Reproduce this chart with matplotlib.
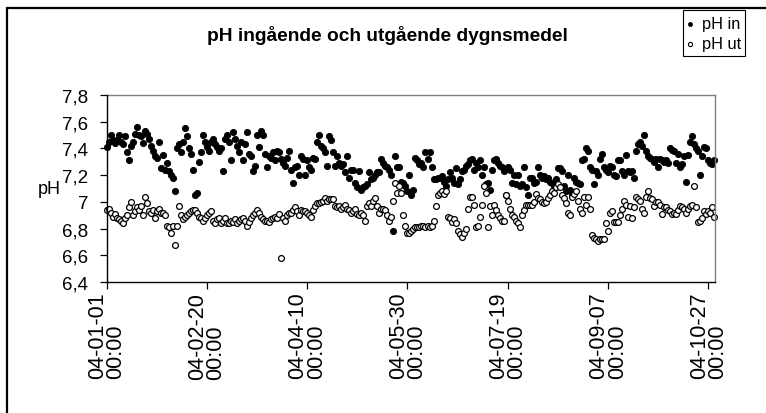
import numpy as np
import matplotlib
matplotlib.use("Agg")
import matplotlib.pyplot as plt
import matplotlib.dates as mdates
from matplotlib.patches import Rectangle
from matplotlib.lines import Line2D
from matplotlib.ticker import FuncFormatter, FixedLocator

plt.rcParams['font.family'] = ['Liberation Sans', 'DejaVu Sans']

start_date = '2004-01-01'
title = 'pH ingående och utgående dygnsmedel'
series_names = ['pH in', 'pH ut']
y_label = 'pH'
y_ticks = [6.4, 6.6, 6.8, 7.0, 7.2, 7.4, 7.6, 7.8]
x_tick_dates = ['2004-01-01', '2004-02-20', '2004-04-10', '2004-05-30',
                '2004-07-19', '2004-09-07', '2004-10-27']

# daily means, one value per day from start_date
ph_in = [
    7.41, 7.45, 7.50, 7.46, 7.44, 7.46, 7.50, 7.45, 7.43, 7.49,
    7.37, 7.31, 7.42, 7.45, 7.51, 7.56, 7.50, 7.49, 7.44, 7.53,
    7.51, 7.47, 7.42, 7.38, 7.34, 7.33, 7.45, 7.25, 7.35, 7.24,
    7.29, 7.23, 7.20, 7.18, 7.08, 7.40, 7.43, 7.37, 7.45, 7.55,
    7.49, 7.40, 7.36, 7.24, 7.05, 7.07, 7.30, 7.37, 7.50, 7.45,
    7.41, 7.38, 7.45, 7.47, 7.43, 7.41, 7.38, 7.40, 7.23, 7.47,
    7.50, 7.45, 7.31, 7.52, 7.47, 7.42, 7.37, 7.45, 7.31, 7.43,
    7.52, 7.36, 7.34, 7.23, 7.27, 7.50, 7.41, 7.53, 7.50, 7.36,
    7.26, 7.34, 7.33, 7.37, 7.31, 7.38, 7.37, 7.32, 7.29, 7.27,
    7.33, 7.38, 7.24, 7.14, 7.26, 7.27, 7.20, 7.34, 7.32, 7.20,
    7.31, 7.26, 7.24, 7.33, 7.32, 7.45, 7.50, 7.42, 7.40, 7.37,
    7.27, 7.49, 7.46, 7.37, 7.27, 7.34, 7.29, 7.27, 7.28, 7.22,
    7.34, 7.18, 7.24, 7.24, 7.14, 7.11, 7.23, 7.09, 7.11, 7.12,
    7.13, 7.22, 7.17, 7.18, 7.20, 7.22, 7.22, 7.32, 7.29, 7.27,
    7.26, 7.24, 7.20, 6.78, 7.34, 7.26, 7.26, 7.15, 7.14, 7.12,
    7.08, 7.20, 7.05, 7.09, 7.33, 7.31, 7.28, 7.29, 7.26, 7.37,
    7.32, 7.37, 7.26, 7.17, 7.17, 7.18, 7.18, 7.19, 7.15, 7.12,
    7.17, 7.22, 7.18, 7.14, 7.25, 7.13, 7.17, 7.23, 7.24, 7.27,
    7.28, 7.31, 7.32, 7.24, 7.29, 7.26, 7.31, 7.20, 7.26, 7.13,
    7.14, 7.09, 7.24, 7.31, 7.32, 7.29, 7.27, 7.26, 7.23, 7.05,
    7.26, 7.24, 7.14, 7.20, 7.13, 7.20, 7.12, 7.13, 7.26, 7.11,
    7.05, 7.18, 7.18, 7.14, 7.15, 7.26, 7.20, 7.18, 7.19, 7.17,
    7.18, 7.15, 7.14, 7.12, 7.17, 7.25, 7.25, 7.23, 7.12, 7.08,
    7.20, 7.09, 7.06, 7.18, 7.15, 7.14, 7.13, 7.31, 7.32, 7.40,
    7.38, 7.26, 7.24, 7.13, 7.23, 7.20, 7.32, 7.36, 7.26, 7.24,
    7.22, 7.27, 7.26, 7.20, 7.19, 7.31, 7.31, 7.23, 7.20, 7.35,
    7.23, 7.22, 7.23, 7.18, 7.38, 7.43, 7.45, 7.42, 7.50, 7.38,
    7.34, 7.33, 7.32, 7.30, 7.32, 7.26, 7.32, 7.31, 7.30, 7.31,
    7.29, 7.40, 7.39, 7.38, 7.29, 7.36, 7.26, 7.28, 7.34, 7.15,
    7.35, 7.45, 7.49, 7.43, 7.40, 7.38, 7.20, 7.34, 7.41, 7.40,
    7.31, 7.29, 7.28, 7.31,
]

ph_ut = [
    6.94, 6.95, 6.92, 6.89, 6.91, 6.88, 6.87, 6.86, 6.84, 6.88,
    6.90, 6.96, 7.00, 6.90, 6.93, 6.96, 6.94, 6.97, 6.90, 7.04,
    6.99, 6.93, 6.92, 6.94, 6.88, 6.93, 6.95, 6.92, 6.92, 6.90,
    6.82, 6.81, 6.77, 6.82, 6.68, 6.82, 6.97, 6.90, 6.87, 6.89,
    6.90, 6.92, 6.93, 6.94, 6.94, 6.92, 6.89, 6.88, 6.86, 6.88,
    6.90, 6.92, 6.93, 6.86, 6.84, 6.87, 6.88, 6.84, 6.86, 6.88,
    6.84, 6.84, 6.86, 6.85, 6.87, 6.84, 6.86, 6.87, 6.88, 6.86,
    6.82, 6.85, 6.88, 6.90, 6.92, 6.94, 6.92, 6.89, 6.87, 6.86,
    6.86, 6.85, 6.87, 6.88, 6.89, 6.88, 6.91, 6.58, 6.88, 6.86,
    6.90, 6.92, 6.92, 6.94, 6.96, 6.93, 6.90, 6.94, 6.93, 6.93,
    6.92, 6.90, 6.89, 6.94, 6.97, 6.99, 6.99, 7.00, 7.01, 7.03,
    7.01, 7.02, 7.02, 7.02, 6.97, 6.96, 6.97, 6.95, 6.96, 6.98,
    6.95, 6.94, 6.92, 6.93, 6.95, 6.91, 6.90, 6.92, 6.90, 6.86,
    6.97, 6.99, 6.97, 7.01, 7.03, 6.97, 6.92, 6.95, 6.95, 6.94,
    6.90, 6.86, 6.89, 7.01, 7.14, 7.07, 7.12, 7.07, 6.90, 6.82,
    6.77, 6.77, 6.78, 6.80, 6.81, 6.81, 6.81, 6.82, 6.82, 6.81,
    6.82, 6.81, 6.82, 6.86, 6.97, 7.05, 7.07, 7.08, 7.06, 7.08,
    6.89, 6.88, 6.85, 6.87, 6.84, 6.78, 6.76, 6.74, 6.77, 6.80,
    6.95, 7.04, 7.04, 6.98, 6.81, 6.82, 6.89, 6.98, 7.12, 7.07,
    6.81, 6.97, 6.90, 6.98, 6.94, 6.90, 6.88, 6.86, 6.86, 7.05,
    7.01, 6.95, 6.90, 6.89, 6.86, 6.84, 6.81, 6.90, 6.94, 6.98,
    6.98, 6.98, 6.98, 7.00, 7.06, 7.03, 7.02, 7.00, 6.99, 7.00,
    7.03, 7.05, 7.08, 7.07, 7.11, 7.13, 7.11, 7.05, 7.03, 6.99,
    6.92, 6.90, 7.04, 7.06, 7.08, 7.01, 6.95, 6.92, 7.04, 6.98,
    7.04, 6.95, 6.75, 6.73, 6.72, 6.71, 6.72, 6.72, 6.72, 6.84,
    6.78, 6.92, 6.93, 6.85, 6.85, 6.85, 6.90, 6.95, 7.01, 6.98,
    6.89, 6.97, 6.88, 6.96, 7.04, 7.02, 7.01, 6.95, 6.92, 7.04,
    7.08, 7.03, 7.02, 6.97, 7.00, 7.00, 6.98, 6.91, 6.96, 6.96,
    6.94, 6.93, 6.91, 6.92, 6.91, 6.94, 6.97, 6.96, 6.95, 6.92,
    6.95, 6.97, 6.98, 7.12, 6.96, 6.85, 6.86, 6.88, 6.93, 6.91,
    6.93, 6.92, 6.96, 6.89,
]

W, H = 766, 414
fig = plt.figure(figsize=(W / 100, H / 100), dpi=100)
fig.patch.set_facecolor('white')


def fx(px):
    return px / W


def fy(py):
    return 1 - py / H


# outer chart frame (extends beyond the cropped picture)
fig.patches.append(Rectangle((fx(7), -0.1), 1.2, fy(9) + 0.1, transform=fig.transFigure,
                             fill=False, edgecolor='black', linewidth=1.6, zorder=0))

left, right, top, bottom = 106.5, 715, 96, 283
ax = fig.add_axes([fx(left), fy(bottom), (right - left) / W, (bottom - top) / H])

t0 = np.datetime64(start_date)
x_in = t0 + np.arange(len(ph_in)).astype('timedelta64[D]')
x_ut = t0 + np.arange(len(ph_ut)).astype('timedelta64[D]')

ax.plot(x_in, ph_in, linestyle='none', marker='o', ms=4.5, mfc='black', mec='black',
        mew=0.6, label=series_names[0], clip_on=False)
ax.plot(x_ut, ph_ut, linestyle='none', marker='o', ms=4.2, mfc='white', mec='black',
        mew=0.9, label=series_names[1], clip_on=False)

ax.set_xlim(mdates.date2num(t0), mdates.date2num(t0) + 303.3)
ax.set_ylim(y_ticks[0], y_ticks[-1])

ax.yaxis.set_major_locator(FixedLocator(y_ticks))
ax.yaxis.set_major_formatter(FuncFormatter(
    lambda v, p: ('%g' % round(v, 1)).replace('.', ',')))
ax.xaxis.set_major_locator(FixedLocator(mdates.date2num(np.array(x_tick_dates, dtype='datetime64[D]'))))
ax.xaxis.set_major_formatter(mdates.DateFormatter('%y-%m-%d\n%H:%M'))

ax.tick_params(axis='both', direction='out', length=5, width=0.9, color='black',
               labelcolor='black')
ax.tick_params(axis='y', pad=8, labelsize=13.5)
ax.tick_params(axis='x', pad=2, labelsize=15.5)

for lab in ax.get_xticklabels():
    lab.set_rotation(90)
    lab.set_multialignment('left')
    lab.set_ha('center')
    lab.set_va('top')
    lab.set_linespacing(0.82)

for s in ['left', 'bottom']:
    ax.spines[s].set_color('black')
    ax.spines[s].set_linewidth(1.0)
for s in ['top', 'right']:
    ax.spines[s].set_color('#808080')
    ax.spines[s].set_linewidth(1.0)
ax.spines['left'].set_zorder(5)

fig.text(fx(49), fy(189), y_label, fontsize=13, ha='center', va='center')
fig.text(fx(387), fy(36), title, fontsize=13.8, fontweight='bold', ha='center', va='center')

# legend box
fig.patches.append(Rectangle((fx(683), fy(57)), (745 - 683) / W, (57 - 11) / H,
                             transform=fig.transFigure, fill=True, facecolor='white',
                             edgecolor='black', linewidth=0.8))
fig.lines.append(Line2D([fx(690)], [fy(25)], transform=fig.transFigure, linestyle='none',
                        marker='o', ms=3.0, mfc='black', mec='black', mew=0.5))
fig.lines.append(Line2D([fx(690)], [fy(45)], transform=fig.transFigure, linestyle='none',
                        marker='o', ms=3.0, mfc='white', mec='black', mew=0.8))
fig.text(fx(702), fy(25), series_names[0], fontsize=11.8, ha='left', va='center')
fig.text(fx(702), fy(45), series_names[1], fontsize=11.8, ha='left', va='center')

fig.savefig('out.png', dpi=100)
